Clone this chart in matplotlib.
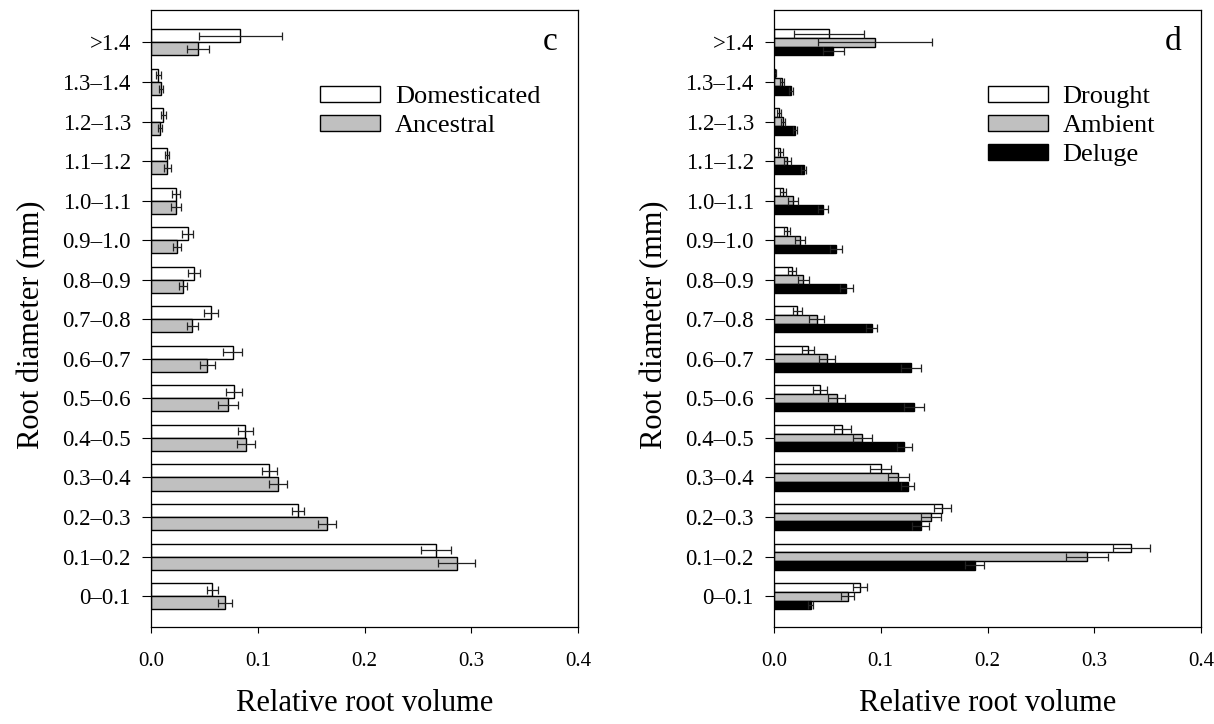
import matplotlib
matplotlib.use("Agg")
import matplotlib.pyplot as plt
import numpy as np

plt.rcParams['font.family'] = ['Liberation Serif', 'DejaVu Serif']

categories = ["0\u20130.1", "0.1\u20130.2", "0.2\u20130.3", "0.3\u20130.4", "0.4\u20130.5",
              "0.5\u20130.6", "0.6\u20130.7", "0.7\u20130.8", "0.8\u20130.9", "0.9\u20131.0",
              "1.0\u20131.1", "1.1\u20131.2", "1.2\u20131.3", "1.3\u20131.4", ">1.4"]

# Panel c
domesticated = [0.0575, 0.2669, 0.1375, 0.111, 0.0884, 0.078, 0.0766, 0.0563, 0.040, 0.0344,
                0.0234, 0.0153, 0.0116, 0.0069, 0.0838]
domesticated_err = [0.0048, 0.0144, 0.0058, 0.0072, 0.0073, 0.0075, 0.0088, 0.0069, 0.0056, 0.0053,
                    0.0040, 0.0020, 0.0020, 0.0020, 0.0385]
ancestral = [0.0694, 0.2863, 0.1647, 0.119, 0.089, 0.0719, 0.0528, 0.0388, 0.030, 0.0247,
             0.0231, 0.0153, 0.0084, 0.0094, 0.0444]
ancestral_err = [0.0064, 0.0170, 0.0086, 0.0083, 0.0080, 0.0092, 0.0073, 0.0050, 0.0040, 0.0038,
                 0.0047, 0.0034, 0.0020, 0.0020, 0.0103]

# Panel d
drought = [0.0806, 0.3348, 0.1577, 0.0999, 0.064, 0.0434, 0.0319, 0.0219, 0.0172, 0.0122,
           0.0084, 0.0059, 0.0047, 0.0012, 0.0515]
drought_err = [0.0069, 0.0172, 0.0080, 0.0097, 0.0080, 0.0065, 0.0053, 0.0044, 0.0037, 0.0028,
               0.0025, 0.0022, 0.0015, 0.0008, 0.0330]
ambient = [0.069, 0.2936, 0.1471, 0.1165, 0.0828, 0.0587, 0.0497, 0.040, 0.0275, 0.0244,
           0.0181, 0.0125, 0.0084, 0.0072, 0.0949]
ambient_err = [0.0064, 0.0197, 0.0090, 0.0098, 0.0092, 0.0078, 0.0078, 0.0073, 0.0050, 0.0050,
               0.0047, 0.0030, 0.0020, 0.0020, 0.0534]
deluge = [0.0344, 0.188, 0.1374, 0.1252, 0.1221, 0.1309, 0.1284, 0.0915, 0.0678, 0.058,
          0.0456, 0.0278, 0.0194, 0.0159, 0.0556]
deluge_err = [0.0025, 0.0090, 0.0078, 0.0062, 0.0069, 0.0094, 0.0097, 0.0053, 0.0060, 0.0060,
              0.0047, 0.0025, 0.0020, 0.0016, 0.0100]

xticks = [0.0, 0.1, 0.2, 0.3, 0.4]
xticklabels = ["0.0", "0.1", "0.2", "0.3", "0.4"]

W, H = 1214, 724
fig = plt.figure(figsize=(W / 100, H / 100), dpi=100)
ax1 = fig.add_axes([151 / W, (H - 627) / H, 427 / W, 617 / H])
ax2 = fig.add_axes([774 / W, (H - 627) / H, 427 / W, 617 / H])

y = np.arange(len(categories))
gray = '#c0c0c0'
ekw = dict(ecolor='#222222', elinewidth=0.9, capsize=2.6, capthick=0.9)

# Panel c
h1 = 0.33
ax1.barh(y + h1 / 2, domesticated, height=h1, color='white', edgecolor='black', linewidth=1.0,
         xerr=domesticated_err, error_kw=ekw, label='Domesticated')
ax1.barh(y - h1 / 2, ancestral, height=h1, color=gray, edgecolor='black', linewidth=1.0,
         xerr=ancestral_err, error_kw=ekw, label='Ancestral')

# Panel d
h2 = 0.22
ax2.barh(y + h2, drought, height=h2, color='white', edgecolor='black', linewidth=1.0,
         xerr=drought_err, error_kw=ekw, label='Drought')
ax2.barh(y, ambient, height=h2, color=gray, edgecolor='black', linewidth=1.0,
         xerr=ambient_err, error_kw=ekw, label='Ambient')
ax2.barh(y - h2, deluge, height=h2, color='black', edgecolor='black', linewidth=1.0,
         xerr=deluge_err, error_kw=ekw, label='Deluge')

for ax, letter in ((ax1, 'c'), (ax2, 'd')):
    ax.set_xlim(0, 0.4)
    ax.set_ylim(-0.78, 14.82)
    ax.set_yticks(y)
    ax.set_yticklabels(categories, fontsize=16.5)
    ax.set_xticks(xticks)
    ax.set_xticklabels(xticklabels, fontsize=15)
    ax.tick_params(axis='y', direction='out', length=6.5, width=0.8, pad=8)
    ax.tick_params(axis='x', direction='out', length=4, width=0.8, pad=14)
    for s in ax.spines.values():
        s.set_linewidth(0.9)
    ax.set_xlabel('Relative root volume', fontsize=22, va='center')
    ax.xaxis.set_label_coords(0.5, -0.124)
    ax.set_ylabel('Root diameter (mm)', fontsize=22, va='center')
    ax.yaxis.set_label_coords(-0.28, 0.49)
    ax.text(0.935, 0.948, letter, transform=ax.transAxes, fontsize=24, ha='center', va='center')

leg_kw = dict(loc='upper left', frameon=False, fontsize=19, handlelength=2.3, handleheight=0.55,
              handletextpad=0.55, labelspacing=0.25, borderpad=0, borderaxespad=0)
ax1.legend(bbox_to_anchor=(0.395, 0.877), **leg_kw)
ax2.legend(bbox_to_anchor=(0.5, 0.877), **leg_kw)

fig.savefig('out.png', dpi=100)
